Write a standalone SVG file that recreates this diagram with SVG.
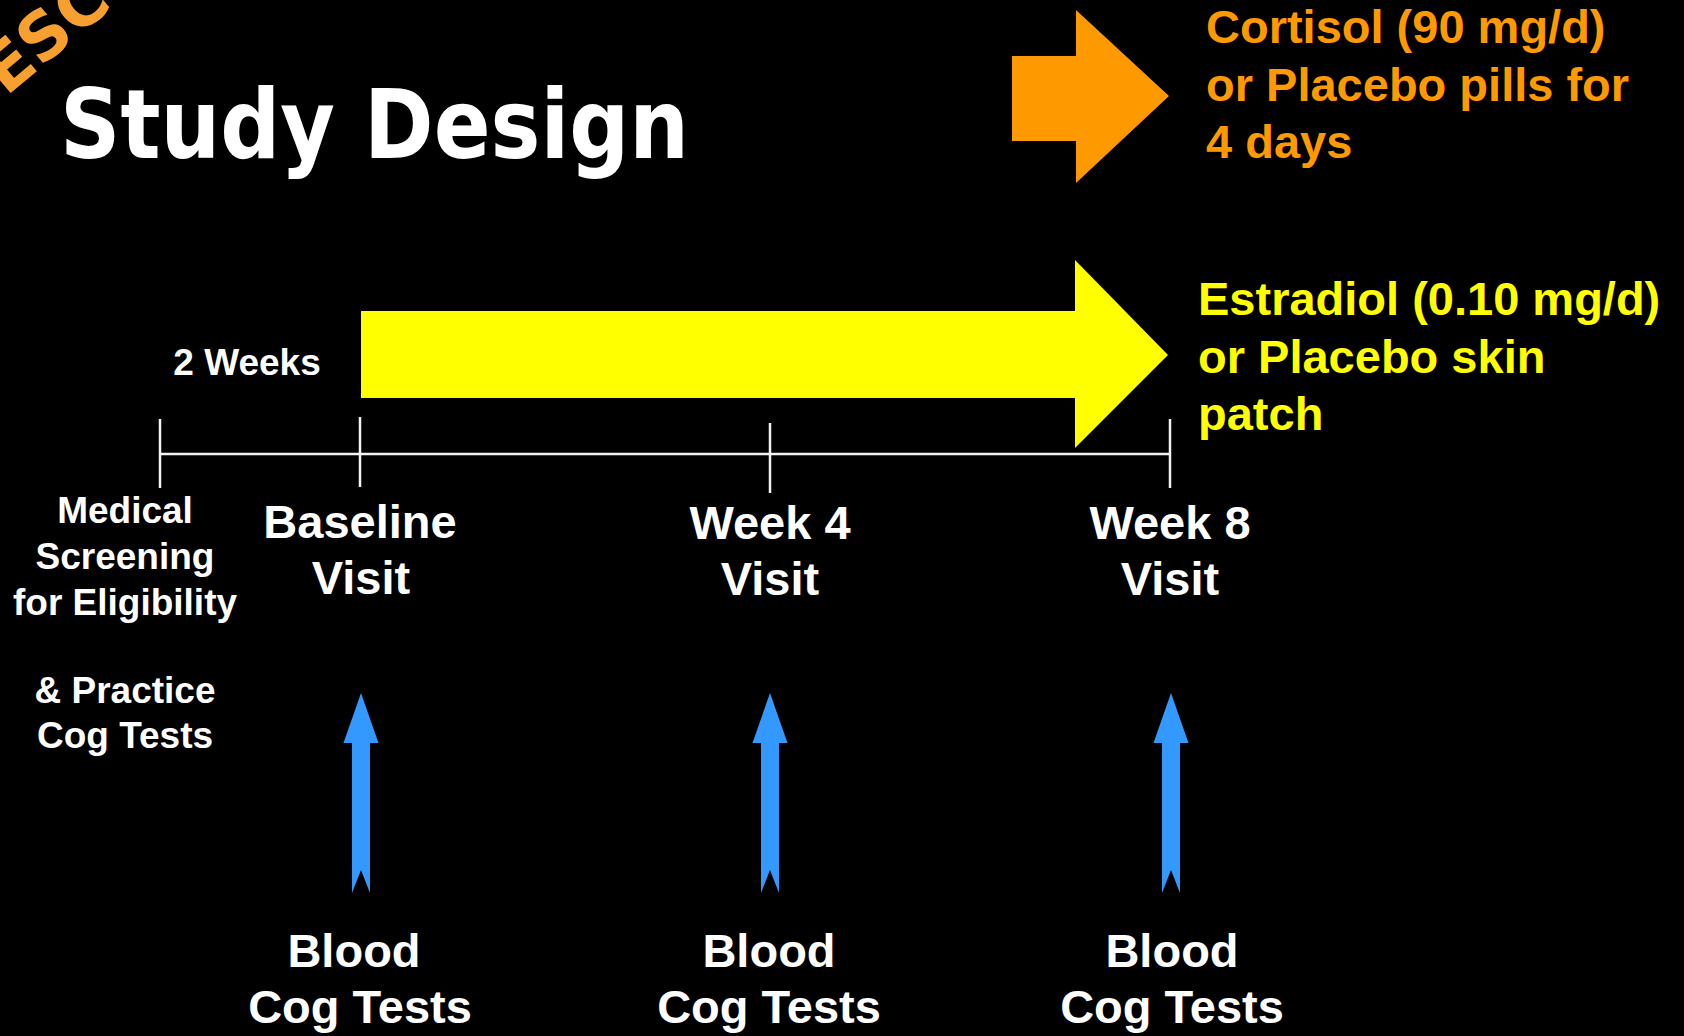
<svg xmlns="http://www.w3.org/2000/svg" width="1684" height="1036" viewBox="0 0 1684 1036">
<style>
.t{font-family:"Liberation Sans",Arial,sans-serif;font-weight:bold;fill:#fff;text-anchor:middle}
.lbl{font-size:47px}
.sm{font-size:37px}
.side{font-family:"Liberation Sans",Arial,sans-serif;font-weight:bold;font-size:47px}
.org{fill:#FF9900}
.yel{fill:#FFFF00}
.tl{stroke:#f2f2f2;stroke-width:2.5;fill:none}
.blue{fill:#3399FF}
</style>
<defs>
<path id="barrow" d="M0,0 L17.5,50 L9,50 L9,200 L0,177 L-9,200 L-9,50 L-17.5,50 Z"/>
</defs>
<rect width="1684" height="1036" fill="#000"/>

<g id="corner">
<text transform="translate(6,97) rotate(-40)" font-family="'DejaVu Sans',Verdana,sans-serif" font-weight="bold" font-size="66" fill="#F7A030">ESC</text>
</g>

<g id="title">
<text x="60" y="158" font-family="'DejaVu Sans',Verdana,sans-serif" font-weight="bold" font-size="97" fill="#fff" textLength="629" lengthAdjust="spacingAndGlyphs">Study Design</text>
</g>

<g id="cortisol">
<polygon class="org" points="1012,56 1076,56 1076,10 1169,96 1076,183 1076,141 1012,141"/>
<text class="side org" x="1206"><tspan x="1206" y="43">Cortisol (90 mg/d)</tspan><tspan x="1206" y="101">or Placebo pills for</tspan><tspan x="1206" y="158">4 days</tspan></text>
</g>

<g id="estradiol">
<polygon class="yel" points="361,311 1075,311 1075,260 1168,355 1075,448 1075,398 361,398"/>
<text class="side yel" x="1198"><tspan x="1198" y="315">Estradiol (0.10 mg/d)</tspan><tspan x="1198" y="373">or Placebo skin</tspan><tspan x="1198" y="430">patch</tspan></text>
</g>

<g id="two-weeks">
<text class="t sm" x="247" y="375">2 Weeks</text>
</g>

<g id="connectors">
<line class="tl" x1="160" y1="454" x2="1170" y2="454"/>
<line class="tl" x1="160" y1="419" x2="160" y2="488"/>
<line class="tl" x1="360" y1="417" x2="360" y2="487"/>
<line class="tl" x1="770" y1="423" x2="770" y2="493"/>
<line class="tl" x1="1170" y1="419" x2="1170" y2="488"/>
<use href="#barrow" class="blue" x="361" y="693"/>
<use href="#barrow" class="blue" x="770" y="693"/>
<use href="#barrow" class="blue" x="1171" y="693"/>
</g>

<g id="screening">
<text class="t sm"><tspan x="125" y="523">Medical</tspan><tspan x="125" y="569">Screening</tspan><tspan x="125" y="615">for Eligibility</tspan><tspan x="125" y="703">&amp; Practice</tspan><tspan x="125" y="748">Cog Tests</tspan></text>
</g>

<g id="baseline">
<text class="t lbl"><tspan x="360" y="538">Baseline</tspan><tspan x="361" y="594">Visit</tspan></text>
</g>

<g id="week4">
<text class="t lbl"><tspan x="770" y="539">Week 4</tspan><tspan x="770" y="595">Visit</tspan></text>
</g>

<g id="week8">
<text class="t lbl"><tspan x="1170" y="539">Week 8</tspan><tspan x="1170" y="595">Visit</tspan></text>
</g>

<g id="tests-baseline">
<text class="t lbl"><tspan x="354" y="967">Blood</tspan><tspan x="360" y="1023">Cog Tests</tspan></text>
</g>
<g id="tests-week4">
<text class="t lbl"><tspan x="769" y="967">Blood</tspan><tspan x="769" y="1023">Cog Tests</tspan></text>
</g>
<g id="tests-week8">
<text class="t lbl"><tspan x="1172" y="967">Blood</tspan><tspan x="1172" y="1023">Cog Tests</tspan></text>
</g>
</svg>
